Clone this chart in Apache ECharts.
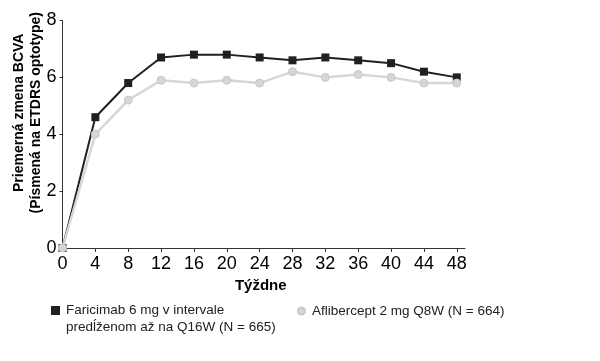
<!DOCTYPE html>
<html><head><meta charset="utf-8">
<script src="https://cdn.jsdelivr.net/npm/echarts@6/dist/echarts.min.js"></script>
<style>html,body{margin:0;padding:0;background:#fff}#c{width:600px;height:361px}</style>
</head><body><div id="c"></div>
<script>
const weeks = [0,4,8,12,16,20,24,28,32,36,40,44,48];
const faricimab = [0,4.6,5.8,6.7,6.8,6.8,6.7,6.6,6.7,6.6,6.5,6.2,6.0];
const aflibercept = [0,4.0,5.2,5.9,5.8,5.9,5.8,6.2,6.0,6.1,6.0,5.8,5.8];
const yTicks = [0,2,4,6,8];
const nameF = 'Faricimab 6 mg v intervale\npredĺženom až na Q16W (N = 665)';
const nameA = 'Aflibercept 2 mg Q8W (N = 664)';
const font = '"Liberation Sans", Arial, sans-serif';
const chart = echarts.init(document.getElementById('c'));
chart.setOption({
  animation:false,
  textStyle:{fontFamily:font},
  grid:{left:62.5,right:135,top:20.5,bottom:113,containLabel:false,outerBoundsMode:'none'},
  xAxis:{
    type:'value',min:0,max:49,
    name:'Týždne',nameLocation:'middle',nameGap:26,
    nameTextStyle:{fontSize:15,fontWeight:'bold',color:'#000',fontFamily:font,padding:[0,6,0,0]},
    axisLine:{show:true,lineStyle:{color:'#333',width:1}},
    axisTick:{show:true,length:4,lineStyle:{color:'#333'},customValues:weeks},
    splitLine:{show:false},
    axisLabel:{fontSize:18,color:'#000',margin:7,fontFamily:font,customValues:weeks}
  },
  yAxis:{
    type:'value',min:0,max:8,interval:2,
    name:'Priemerná zmena BCVA\n(Písmená na ETDRS optotype)',
    nameLocation:'middle',nameGap:18,nameRotate:90,nameMoveOverlap:false,
    nameTextStyle:{fontSize:14,fontWeight:'bold',color:'#000',lineHeight:17,fontFamily:font,padding:[0,0,0,43]},
    axisLine:{show:true,lineStyle:{color:'#333',width:1}},
    axisTick:{show:true,length:3,lineStyle:{color:'#333'},customValues:yTicks},
    splitLine:{show:false},
    axisLabel:{fontSize:18,color:'#000',margin:6,fontFamily:font,customValues:yTicks}
  },
  legend:[{
    data:[{name:nameF,icon:'path://M0,0L9,0L9,9L0,9Z M0,26L0.01,26L0,26Z'}],left:51,top:302,padding:0,itemWidth:9,itemHeight:26,
    textStyle:{fontSize:13.5,color:'#222',lineHeight:17,fontFamily:font,padding:[0,0,0,1]}
  },{
    data:[{name:nameA,icon:'circle'}],left:297,top:302.5,padding:0,itemWidth:7,itemHeight:7,
    textStyle:{fontSize:13.5,color:'#222',lineHeight:17,fontFamily:font,padding:[0,0,0,2]}
  }],
  series:[{
    name:nameF,type:'line',data:weeks.map((w,i)=>[w,faricimab[i]]),
    symbol:'rect',symbolSize:8,
    itemStyle:{color:'#231f20'},lineStyle:{color:'#231f20',width:2}
  },{
    name:nameA,type:'line',data:weeks.map((w,i)=>[w,aflibercept[i]]),
    symbol:'circle',symbolSize:8,
    itemStyle:{color:'#d6d6d6',borderColor:'#c8c8c8',borderWidth:1},lineStyle:{color:'#d6d6d6',width:2.5}
  }]
});
</script></body></html>
